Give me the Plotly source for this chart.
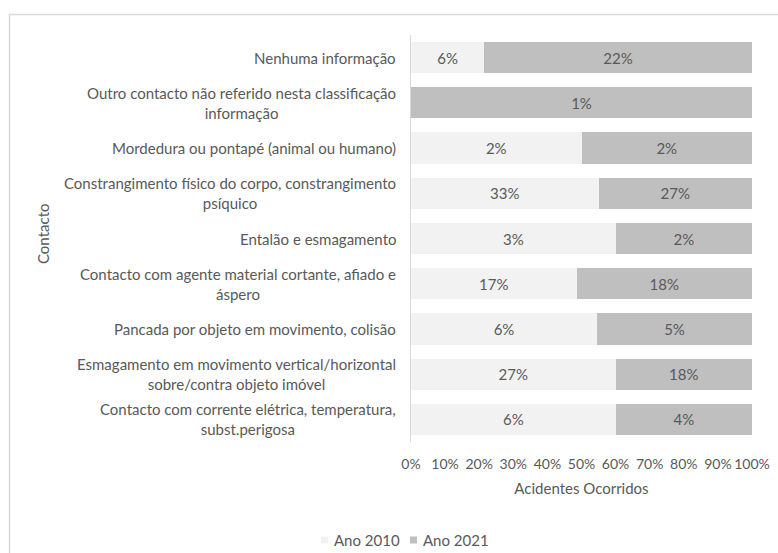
import plotly.graph_objects as go

# Contact categories (top to bottom) and share of accidents per year (%)
categories = [
    "Nenhuma informação",
    "Outro contacto não referido nesta classificação<br>informação",
    "Mordedura ou pontapé (animal ou humano)",
    "Constrangimento físico do corpo, constrangimento<br>psíquico",
    "Entalão e esmagamento",
    "Contacto com agente material cortante, afiado e<br>áspero",
    "Pancada por objeto em movimento, colisão",
    "Esmagamento em movimento vertical/horizontal<br>sobre/contra objeto imóvel",
    "Contacto com corrente elétrica, temperatura,<br>subst.perigosa",
]
ano_2010 = [6, 0, 2, 33, 3, 17, 6, 27, 6]
ano_2021 = [22, 1, 2, 27, 2, 18, 5, 18, 4]
x_ticks = [0, 10, 20, 30, 40, 50, 60, 70, 80, 90, 100]

FONT = "Lato"
FS = 15
TXT = "#595959"

W, H = 778, 553
ML, MR, MT, MB = 411, 26, 35, 111
PW, PH = W - ML - MR, H - MT - MB


def px_to_paper_x(px):
    return (px - ML) / PW


def px_to_paper_y(py):
    return (H - MB - py) / PH


series = [("Ano 2010", ano_2010, "#f2f2f2"),
          ("Ano 2021", ano_2021, "#bfbfbf")]

fig = go.Figure()
for name, vals, color in series:
    fig.add_trace(go.Bar(
        name=name,
        y=categories,
        x=vals,
        orientation="h",
        marker=dict(color=color, line=dict(width=0)),
        text=[f"{v}%" if v else "" for v in vals],
        textposition="inside",
        insidetextanchor="middle",
        textangle=0,
        textfont=dict(family=FONT, size=FS, color=TXT),
        hoverinfo="skip",
        showlegend=False,
    ))

# Category labels, right-aligned against the axis with centered lines
annotations = []
for cat in categories:
    annotations.append(dict(
        xref="paper", yref="y", x=0, y=cat, text=cat,
        xanchor="right", yanchor="middle", align="center",
        xshift=-13, showarrow=False,
        font=dict(family=FONT, size=FS, color=TXT),
    ))
# Vertical axis title
annotations.append(dict(
    xref="paper", yref="paper", x=px_to_paper_x(43), y=px_to_paper_y(234),
    text="Contacto", textangle=-90, showarrow=False,
    xanchor="center", yanchor="middle",
    font=dict(family=FONT, size=FS, color=TXT),
))

# Chart frame
shapes = [dict(
    type="rect", xref="paper", yref="paper",
    x0=px_to_paper_x(9.5), x1=px_to_paper_x(800),
    y0=px_to_paper_y(580), y1=px_to_paper_y(14.5),
    line=dict(color="#d9d9d9", width=1.5), fillcolor="rgba(0,0,0,0)",
    layer="below",
)]

# Compact legend: small square swatch followed by the series name
legend_x = [321, 410]
legend_y = 540
for (name, _, color), lx in zip(series, legend_x):
    shapes.append(dict(
        type="rect", xref="paper", yref="paper",
        x0=px_to_paper_x(lx), x1=px_to_paper_x(lx + 7),
        y0=px_to_paper_y(legend_y + 3.5), y1=px_to_paper_y(legend_y - 3.5),
        line=dict(width=0), fillcolor=color,
    ))
    annotations.append(dict(
        xref="paper", yref="paper",
        x=px_to_paper_x(lx + 11), y=px_to_paper_y(legend_y),
        text=name, showarrow=False, xanchor="left", yanchor="middle",
        font=dict(family=FONT, size=FS, color=TXT),
    ))

fig.update_layout(
    width=W, height=H,
    margin=dict(l=ML, r=MR, t=MT, b=MB, autoexpand=False),
    paper_bgcolor="white", plot_bgcolor="white",
    barmode="stack", barnorm="percent", bargap=0.31,
    font=dict(family=FONT, size=FS, color=TXT),
    showlegend=False,
    annotations=annotations,
    shapes=shapes,
)

fig.update_xaxes(
    range=[0, 100], tickvals=x_ticks, ticktext=[f"{t}%" for t in x_ticks],
    showgrid=False, zeroline=False, showline=False, ticks="",
    ticklabelstandoff=12,
    tickfont=dict(family=FONT, size=14, color=TXT),
    title=dict(text="Acidentes Ocorridos", standoff=12,
               font=dict(family=FONT, size=FS, color=TXT)),
    fixedrange=True,
)
fig.update_yaxes(
    autorange="reversed", showticklabels=False, showgrid=False,
    zeroline=False, showline=True, linecolor="#d9d9d9", linewidth=1,
    ticks="", fixedrange=True,
)

fig.write_html("out.html")
